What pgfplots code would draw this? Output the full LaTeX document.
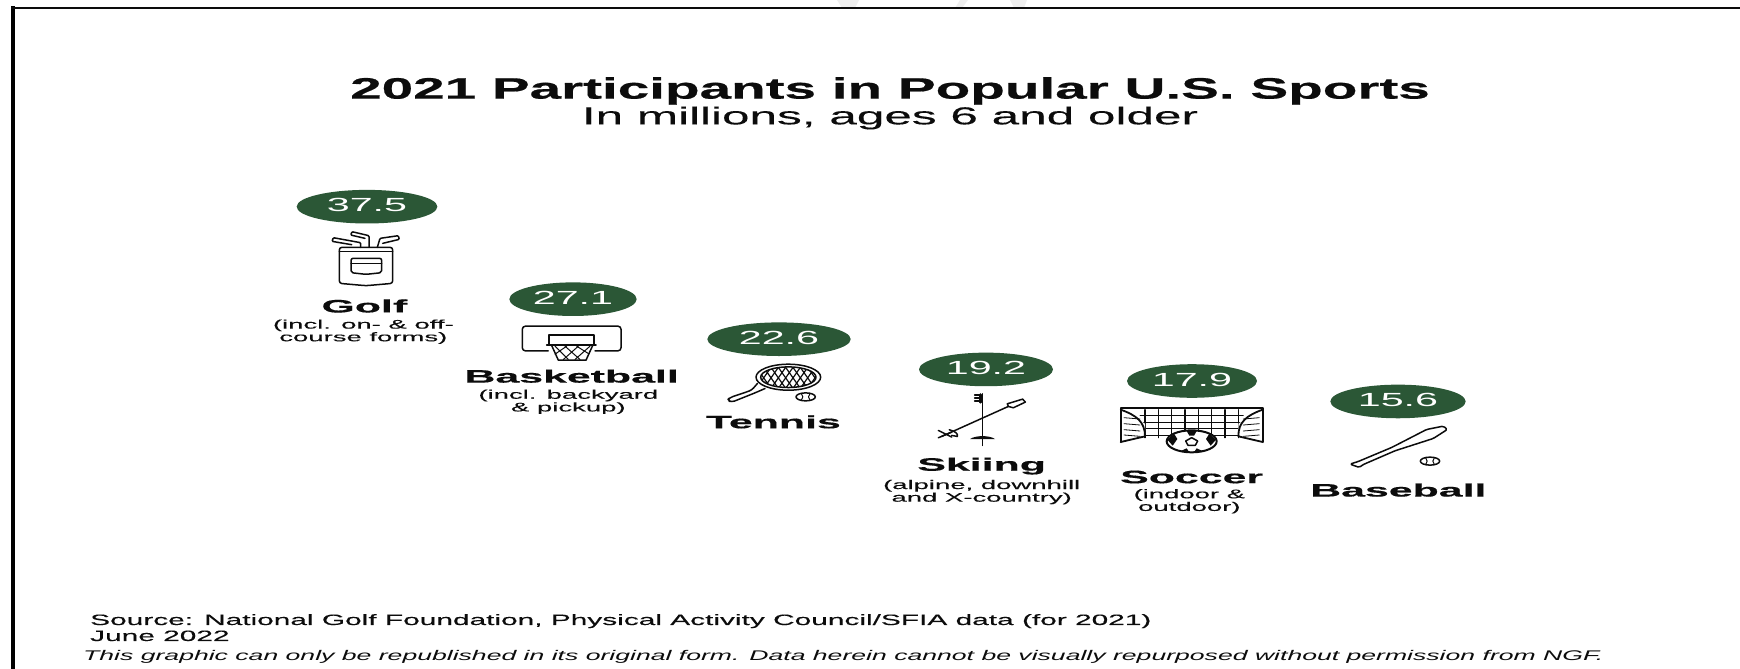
\documentclass[border=0pt]{standalone}
\usepackage{fontspec}
\setmainfont{Liberation Sans}[FakeStretch=2.0]
% wide settings of the same family for each kind of text
\newfontfamily\titlefont{Liberation Sans}[FakeStretch=1.92,BoldFeatures={FakeBold=0.6}]
\newfontfamily\subtitlefont{Liberation Sans}[FakeStretch=2.02,FakeBold=0.15]
\newfontfamily\namefont{Liberation Sans}[FakeStretch=2.38,BoldFeatures={FakeBold=0.5}]
\newfontfamily\notefont{Liberation Sans}[FakeStretch=2.2,FakeBold=0.15]
\newfontfamily\valuefont{Liberation Sans}[FakeStretch=2.17]
\newfontfamily\sourcefont{Liberation Sans}[FakeStretch=1.99,FakeBold=0.3]
\newfontfamily\permitfont{Liberation Sans}[FakeStretch=1.9]
\usepackage{pgfplots}
\pgfplotsset{compat=1.18}
\definecolor{pillgreen}{HTML}{2B5736}
\definecolor{inkblack}{HTML}{0C0C0C}
\definecolor{faintgrey}{HTML}{EFEFEF}

% elliptical badge behind each participation figure
\pgfdeclareplotmark{pill}{%
  \pgfpathellipse{\pgfpointorigin}{\pgfqpoint{67pt}{0pt}}{\pgfqpoint{0pt}{16.8pt}}%
  \pgfusepathqfill}

\newcommand{\fs}[1]{\fontsize{#1pt}{#1pt}\selectfont}
\tikzset{
  icon/.style={draw=inkblack,line width=1.5pt,line join=round,line cap=round},
  thinicon/.style={draw=inkblack,line width=1pt,line cap=round},
  sportname/.style={inner sep=0pt,text=inkblack,font=\namefont\fs{18}\bfseries},
  sportnote/.style={inner sep=0pt,align=center,text=inkblack,
    font=\notefont\fontsize{12.5pt}{11.2pt}\selectfont},
}

\begin{document}
\begin{tikzpicture}[x=1pt,y=1pt]
\path[use as bounding box] (0,0) rectangle (1740,669);

% faint fragments along the top edge
\fill[faintgrey] (837,669) -- (842,661) -- (855,661) -- (859,669) -- cycle;
\fill[faintgrey] (955,661) -- (962,661) -- (968,669) -- (960,669) -- cycle;
\fill[faintgrey] (1010,669) -- (1014,661) -- (1024,661) -- (1027,669) -- cycle;

\begin{axis}[
  at={(0,0)},anchor=south west,
  scale only axis,width=1740pt,height=669pt,
  xmin=0,xmax=1740,ymin=-14.48,ymax=60.74,
  hide axis,clip=false,
  cycle list={{pillgreen}},
  only marks,
  mark=pill,
  nodes near coords,
  point meta=y,
  every node near coord/.style={anchor=center,text=white,inner sep=0pt,font=\valuefont\fs{19},yshift=1.5pt},
  /pgf/number format/fixed,
  /pgf/number format/fixed zerofill,
  /pgf/number format/precision=1,
  /pgf/number format/assume math mode=true,
]
\addplot+[mark options={fill=pillgreen,draw=none,xscale=1.05}] coordinates {(367,37.5)};
\addplot+[mark options={fill=pillgreen,draw=none,xscale=0.95}] coordinates {(573,27.1)};
\addplot+[mark options={fill=pillgreen,draw=none,xscale=1.07}] coordinates {(779,22.6)};
\addplot+[mark options={fill=pillgreen,draw=none,xscale=1.00}] coordinates {(986,19.2)};
\addplot+[mark options={fill=pillgreen,draw=none,xscale=0.97}] coordinates {(1192,17.9)};
\addplot+[mark options={fill=pillgreen,draw=none,xscale=1.01}] coordinates {(1398,15.6)};
\coordinate (golf) at (axis cs:367,37.5);
\coordinate (basket) at (axis cs:573,27.1);
\coordinate (tennis) at (axis cs:779,22.6);
\coordinate (ski) at (axis cs:986,19.2);
\coordinate (soccer) at (axis cs:1192,17.9);
\coordinate (base) at (axis cs:1398,15.6);
\end{axis}

% frame on the left and top
\fill[black] (11,0) rectangle (15,663);
\fill[inkblack] (11,660) rectangle (1740,662.4);

% headings
\node[inner sep=0pt,text=inkblack,font=\titlefont\fs{29.5}\bfseries] at (890,578) {2021 Participants in Popular U.S. Sports};
\node[inner sep=0pt,text=inkblack,font=\subtitlefont\fs{24.5}] at (890,551) {In millions, ages 6 and older};

% golf bag
\begin{scope}[shift={(golf)},x=0.3333pt,y=-0.3333pt,shift={(-381,-110)}]
  \draw[icon,rounded corners=2.5pt] (298,232) -- (298,340) -- (378,347) -- (458,340) -- (458,232) -- cycle;
  \draw[icon] (298,245) -- (458,245);
  \draw[icon,rounded corners=2pt] (333,265) -- (333,308) -- (378,313) -- (425,308) -- (425,265) -- cycle;
  \draw[icon] (333,280) -- (425,280);
  \draw[icon,rounded corners=1pt] (362,232) -- (362,218) -- (280,203) -- (276,214) -- (335,224);
  \draw[icon,rounded corners=1pt] (387,232) -- (387,197) -- (336,185) -- (332,195) -- (375,205);
  \draw[icon,rounded corners=1pt] (412,232) -- (420,205) -- (475,197) -- (478,208) -- (428,220);
  \node[sportname] at (373,408) {Golf};
  \node[sportnote] at (370,485) {(incl. on- \& off-\\course forms)};
\end{scope}

% basketball hoop
\begin{scope}[shift={(basket)},x=0.3333pt,y=-0.3333pt,shift={(-999,-387)}]
  \draw[icon,rounded corners=3pt] (925,542) -- (847,542) -- (847,468) -- (1143,468) -- (1143,542) -- (1065,542);
  \draw[icon] (927,522) -- (927,495) -- (1062,495) -- (1062,522);
  \draw[icon] (920,524) -- (1068,524);
  \draw[icon] (935,526) -- (955,570) -- (1038,570) -- (1058,526);
  \draw[thinicon] (945,528) -- (985,568) (975,528) -- (1020,568) (1010,528) -- (1045,550)
                  (1050,528) -- (1005,568) (1015,528) -- (970,568) (980,528) -- (945,552);
  \node[sportname] at (995,618) {Basketball};
  \node[sportnote] at (985,695) {(incl. backyard\\\& pickup)};
\end{scope}

% tennis racket and ball
\begin{scope}[shift={(tennis)},x=0.3333pt,y=-0.3333pt,shift={(-297,-87)}]
  \draw[icon] (325,201) ellipse[x radius=97,y radius=39];
  \begin{scope}
    \clip (325,201) ellipse[x radius=82,y radius=30];
    \foreach \d in {-140,-118,...,140}{
      \draw[thinicon,line width=1.2pt] (325+\d-35,153) -- (325+\d+35,253);
      \draw[thinicon,line width=1.2pt] (325+\d+35,153) -- (325+\d-35,253);
    }
  \end{scope}
  \draw[icon] (325,201) ellipse[x radius=83,y radius=31];
  \draw[icon,rounded corners=3pt] (232,220) -- (215,240) -- (150,262) -- (142,270) -- (155,276) -- (225,248) -- (255,235);
  \draw[icon] (377,260) ellipse[x radius=29,y radius=12];
  \draw[thinicon] (364,250) .. controls (370,256) and (370,264) .. (364,270)
                  (390,250) .. controls (384,256) and (384,264) .. (390,270);
  \node[sportname] at (280,335) {Tennis};
\end{scope}

% crossed ski poles
\begin{scope}[shift={(ski)},x=0.3333pt,y=-0.3333pt,shift={(-918,-177)}]
  \draw[icon] (907,250) -- (907,405);
  \draw[icon,line width=2.4pt] (901,252) -- (901,276);
  \foreach \y in {254,263,272}
    \draw[icon] (884,\y) -- (900,\y);
  \fill[inkblack] (870,386) .. controls (885,374) and (930,374) .. (945,386) -- cycle;
  \draw[icon] (785,378) -- (985,288);
  \draw[icon] (985,288) -- (982,280) -- (1028,266) -- (1036,275) -- (1000,292) -- (985,288);
  \draw[icon] (775,360) -- (815,380) (775,382) -- (815,365);
  \draw[icon] (808,358) .. controls (825,362) and (835,370) .. (832,378) -- (815,375);
  \node[sportname] at (905,467) {Skiing};
  \node[sportnote] at (905,545) {(alpine, downhill\\and X-country)};
\end{scope}

% soccer goal and ball
\begin{scope}[shift={(soccer)},x=0.3333pt,y=-0.3333pt,shift={(-306,-62)}]
  \foreach \x in {165,205,245,285,325,365,405,445}
    \draw[icon,line width=1.2pt] (\x,148) -- (\x,232);
  \foreach \y in {165,185,205,225}
    \draw[icon,line width=0.8pt] (150,\y) -- (460,\y);
  \fill[white] (92,143) -- (165,190) -- (165,228) -- (92,245) -- cycle;
  \fill[white] (518,143) -- (445,190) -- (445,228) -- (518,245) -- cycle;
  \foreach \y in {172,190,208,224}{
    \draw[icon,line width=0.8pt] (102,\y) -- (150,\y+4);
    \draw[icon,line width=0.8pt] (508,\y) -- (460,\y+4);
  }
  \draw[icon,line width=2pt] (92,245) -- (92,143) -- (518,143) -- (518,245);
  \draw[icon,line width=1.8pt] (92,148) .. controls (140,165) and (165,185) .. (165,228) -- (92,245);
  \draw[icon,line width=1.8pt] (518,148) .. controls (470,165) and (445,185) .. (445,228) -- (518,245);
  \filldraw[icon,line width=2pt,fill=white] (305,243) ellipse[x radius=75,y radius=33];
  \draw[icon] (287,242) -- (305,232) -- (323,242) -- (316,255) -- (294,255) -- cycle;
  \fill[inkblack] (290,212) -- (320,212) -- (312,226) -- (298,226) -- cycle;
  \fill[inkblack] (232,238) -- (252,220) -- (262,236) -- (248,256) -- cycle;
  \fill[inkblack] (378,238) -- (358,220) -- (348,236) -- (362,256) -- cycle;
  \fill[inkblack] (268,274) -- (290,264) -- (298,276) -- cycle;
  \fill[inkblack] (342,274) -- (320,264) -- (312,276) -- cycle;
  \node[sportname] at (305,350) {Soccer};
  \node[sportnote] at (298,423) {(indoor \&\\outdoor)};
\end{scope}

% baseball bat and ball
\begin{scope}[shift={(base)},x=0.3333pt,y=-0.3333pt,shift={(-924,-124)}]
  \draw[icon,rounded corners=1.5pt] (780,312) -- (805,304) -- (905,262) -- (1010,208) -- (1060,198) -- (1072,208) -- (1030,235) -- (915,272) -- (818,314) -- (808,322) -- cycle;
  \draw[icon] (1020,303) ellipse[x radius=29,y radius=12];
  \draw[thinicon] (1007,293) .. controls (1013,299) and (1013,307) .. (1007,313)
                  (1033,293) .. controls (1027,299) and (1027,307) .. (1033,313);
  \node[sportname] at (925,390) {Baseball};
\end{scope}

% source lines
\node[anchor=base west,inner sep=0pt,text=inkblack,font=\sourcefont\fs{15}] at (90,44) {Source: National Golf Foundation, Physical Activity Council/SFIA data (for 2021)};
\node[anchor=base west,inner sep=0pt,text=inkblack,font=\sourcefont\fs{15}] at (90,28) {June 2022};
\node[anchor=base west,inner sep=0pt,text=inkblack,font=\permitfont\fs{14}\itshape] at (83,8) {This graphic can only be republished in its original form. Data herein cannot be visually repurposed without permission from NGF.};
\end{tikzpicture}
\end{document}
